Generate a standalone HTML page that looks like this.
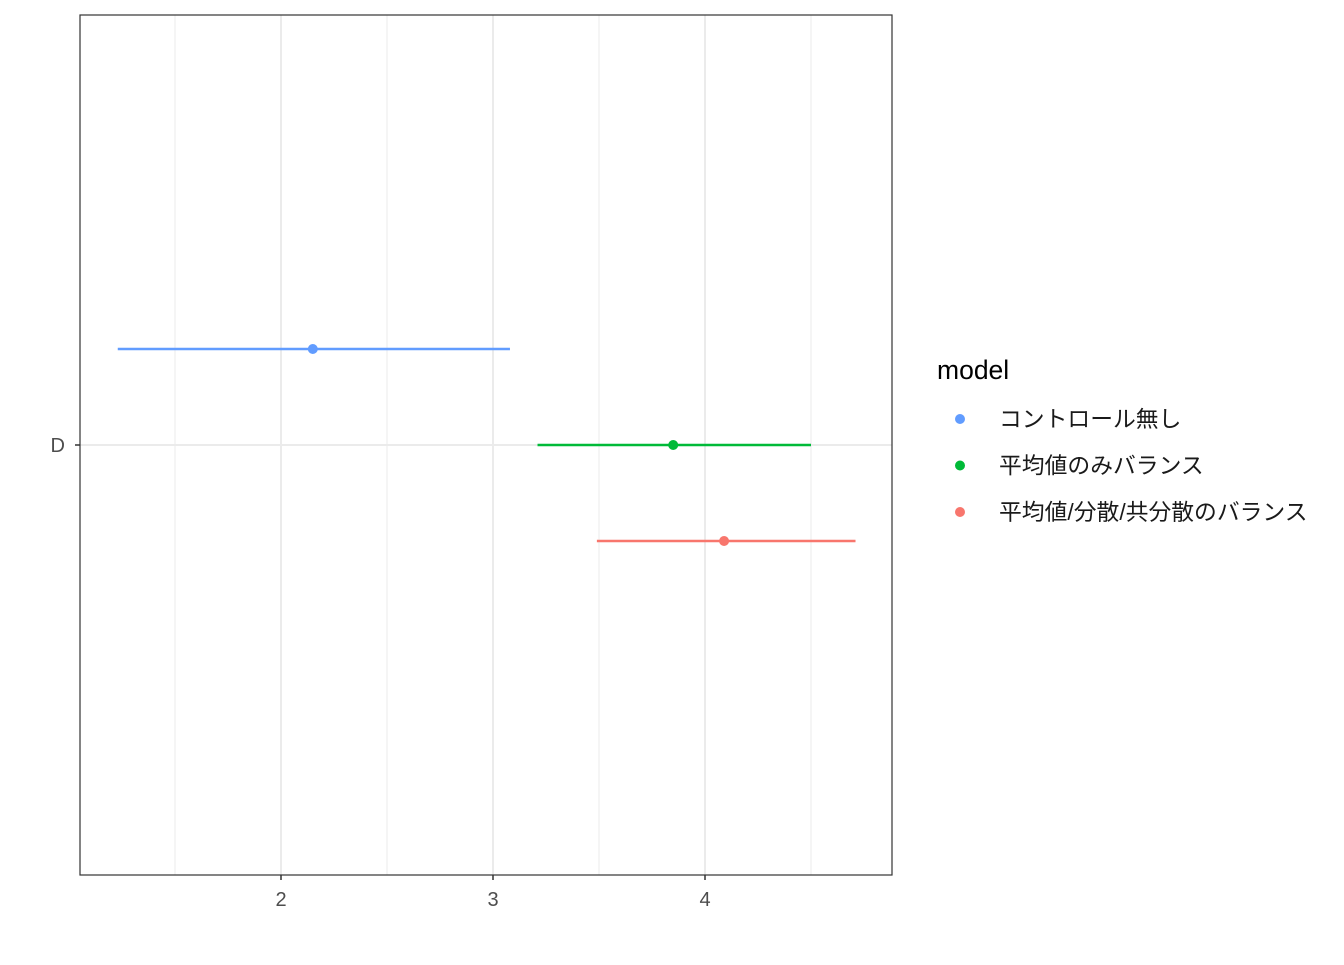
<!DOCTYPE html>
<html><head><meta charset="utf-8"><style>
body{margin:0;background:#fff;}
svg text{font-family:"Liberation Sans","Noto Sans CJK JP",sans-serif;}
</style></head><body>
<svg width="1344" height="960" xmlns="http://www.w3.org/2000/svg">
<g id="plot"></g>
</svg>
<script>
const models=["コントロール無し","平均値のみバランス","平均値/分散/共分散のバランス"];
const colors=["#619CFF","#00BA38","#F8766D"];
const estimates=[2.15,3.85,4.09];
const lows=[1.23,3.21,3.49];
const highs=[3.08,4.50,4.71];
const offsets=[-1,0,1];
const xTicks=[2,3,4];
const xMinor=[1.5,2.5,3.5,4.5];
const NS="http://www.w3.org/2000/svg";
const L=80,R=892,T=15,B=875;
const xs=v=>69+(v-1)*212;
const ys=o=>445+o*96;
const g=document.getElementById('plot');
function mk(t,a){const e=document.createElementNS(NS,t);for(const k in a)e.setAttribute(k,a[k]);g.appendChild(e);return e;}
let e=mk('rect',{x:L,y:T,width:R-L,height:B-T,fill:'#fff'});


xMinor.forEach(v=>{e=mk('line',{x1:xs(v),x2:xs(v),y1:T,y2:B,stroke:'#ebebeb','stroke-width':1});

});
xTicks.forEach(v=>{e=mk('line',{x1:xs(v),x2:xs(v),y1:T,y2:B,stroke:'#ebebeb','stroke-width':2});


e=mk('line',{x1:xs(v),x2:xs(v),y1:B,y2:B+5,stroke:'#333','stroke-width':1.5});


e=mk('text',{x:xs(v),y:906,'text-anchor':'middle','font-size':20,fill:'#4d4d4d'});e.textContent=v;

});
e=mk('line',{x1:L,x2:R,y1:445,y2:445,stroke:'#ebebeb','stroke-width':2});


e=mk('line',{x1:L-5,x2:L,y1:445,y2:445,stroke:'#333','stroke-width':1.5});


e=mk('text',{x:65,y:452,'text-anchor':'end','font-size':20,fill:'#4d4d4d'});e.textContent='D';


models.forEach((m,i)=>{
 e=mk('line',{x1:xs(lows[i]),x2:xs(highs[i]),y1:ys(offsets[i]),y2:ys(offsets[i]),stroke:colors[i],'stroke-width':2.5});
 
 
 e=mk('circle',{cx:xs(estimates[i]),cy:ys(offsets[i]),r:5,fill:colors[i]});
 
 
 e=mk('circle',{cx:960,cy:419+i*46.5,r:5,fill:colors[i]});
 
 
 e=mk('text',{x:999,y:427+i*46.5,'font-size':22.8,fill:'#1a1a1a'});e.textContent=m;
 
 
});
e=mk('rect',{x:L,y:T,width:R-L,height:B-T,fill:'none',stroke:'#333','stroke-width':1.2});


e=mk('text',{x:937,y:379,'font-size':26.5,fill:'#000'});e.textContent='model';


</script>
</body></html>
